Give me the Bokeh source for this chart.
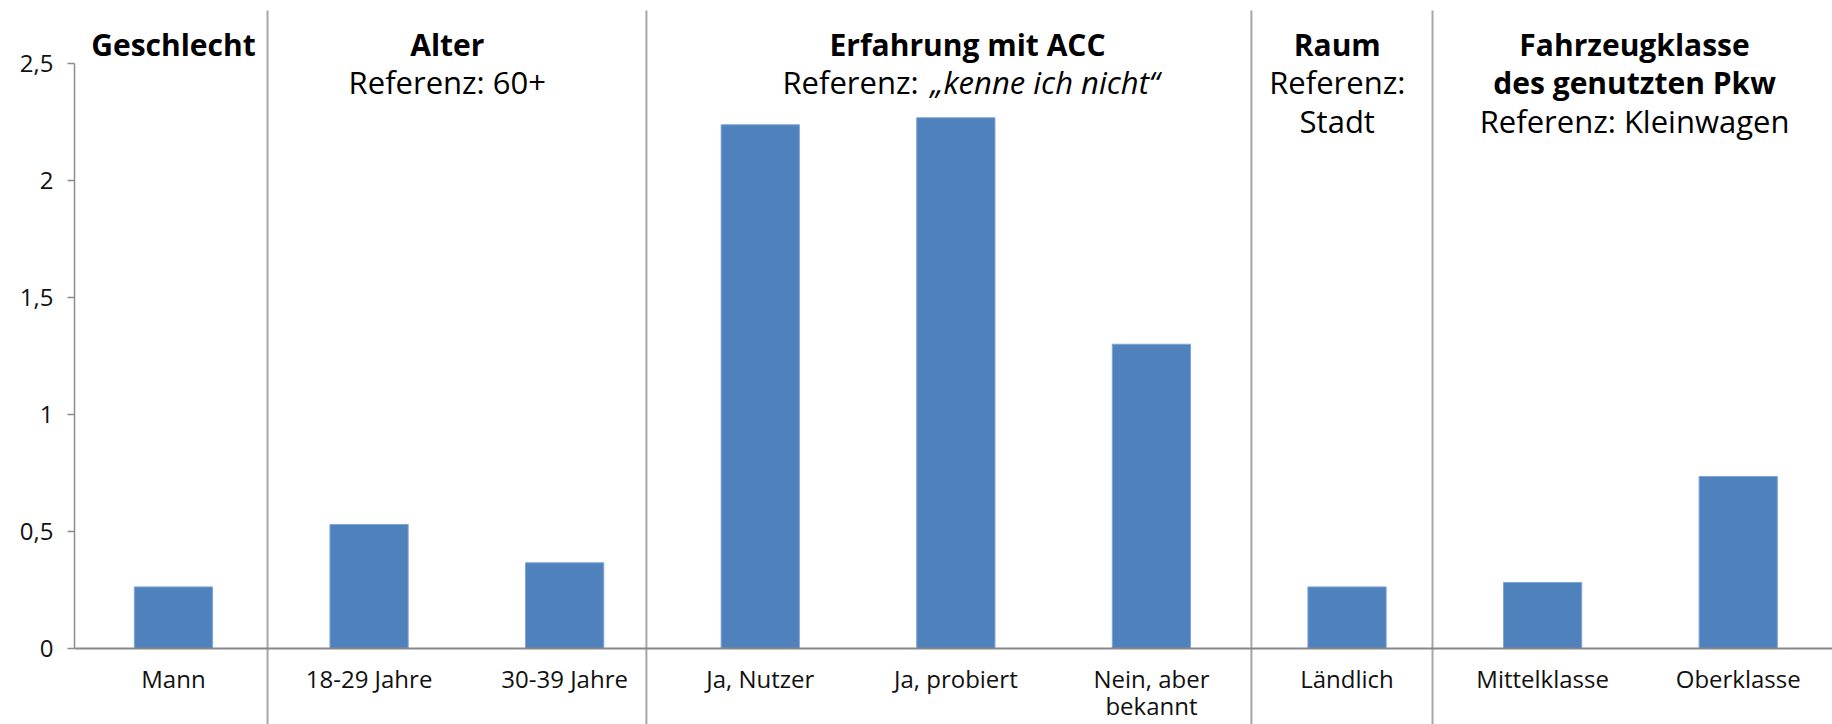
from bokeh.plotting import figure
from bokeh.models import Range1d, FixedTicker, CustomJSTickFormatter
from bokeh.core.properties import value
from bokeh.embed import file_html
from bokeh.resources import INLINE

# ---- data ----
categories = ["Mann", "18-29 Jahre", "30-39 Jahre", "Ja, Nutzer", "Ja, probiert",
              "Nein, aber\nbekannt", "Ländlich", "Mittelklasse", "Oberklasse"]
values = [0.263, 0.530, 0.366, 2.238, 2.268, 1.30, 0.263, 0.282, 0.735]
y_ticks = [0, 0.5, 1, 1.5, 2, 2.5]

group_titles = ["Geschlecht", "Alter", "Erfahrung mit ACC", "Raum", "Fahrzeugklasse"]
group_title2 = ["", "", "", "", "des genutzten Pkw"]
group_sub1 = ["", "Referenz: 60+", "", "Referenz:", "Referenz: Kleinwagen"]
group_sub2 = ["", "", "", "Stadt", ""]
acc_ref_label = "Referenz:"
acc_ref_value = "\u201ekenne ich nicht\u201c"

# ---- layout constants ----
FONT = value("Open Sans")
BAR_COLOR = "#4F81BD"
group_x = [0.5, 1.90, 4.56, 6.45, 7.97]
sep_x = [0.981, 2.918, 6.011, 6.937]
line_y = [2.581, 2.419, 2.256]
BOLD_SIZE = "30px"
REG_SIZE = "31px"

W, H = 1832, 724
p = figure(width=W, height=H, output_backend="svg", toolbar_location=None,
           x_range=Range1d(-0.006, 8.982), y_range=Range1d(-0.325, 2.769),
           min_border_left=74, min_border_right=0, min_border_top=0, min_border_bottom=0)
p.outline_line_color = None
p.xgrid.visible = False
p.ygrid.visible = False
p.background_fill_color = "white"
p.border_fill_color = "white"

# separators
p.segment(x0=sep_x, y0=[2.726] * len(sep_x), x1=sep_x, y1=[-0.33] * len(sep_x),
          line_color="#a6a6a6", line_width=2)

# bars
xs = [i + 0.5 for i in range(len(categories))]
p.vbar(x=xs, top=values, width=0.4, fill_color=BAR_COLOR, line_color="#7ea5d5", line_width=1)

# x axis (at y = 0)
xa = p.xaxis[0]
xa.fixed_location = 0
xa.ticker = FixedTicker(ticks=xs)
xa.formatter = CustomJSTickFormatter(args=dict(labels=categories),
                                     code="return labels[Math.floor(tick)];")
xa.major_tick_line_color = None
xa.minor_tick_line_color = None
xa.major_tick_out = 0
xa.major_tick_in = 0
xa.axis_line_color = "#888888"
xa.axis_line_width = 2
xa.major_label_standoff = 14
xa.major_label_text_font = "Open Sans"
xa.major_label_text_font_size = "24px"
xa.major_label_text_line_height = 0.8
xa.major_label_text_color = "#111111"

# y axis
ya = p.yaxis[0]
ya.bounds = (0, 2.5)
ya.ticker = FixedTicker(ticks=y_ticks)
ya.formatter = CustomJSTickFormatter(code="return tick.toString().replace('.', ',');")
ya.axis_line_color = "#8c8c8c"
ya.axis_line_width = 1.5
ya.major_tick_line_color = "#8c8c8c"
ya.major_tick_line_width = 1.5
ya.major_tick_in = 0
ya.major_tick_out = 7
ya.minor_tick_line_color = None
ya.major_label_standoff = 14
ya.major_label_text_font = "Open Sans"
ya.major_label_text_font_size = "24px"
ya.major_label_text_color = "#111111"

# headers
p.text(x=group_x, y=[line_y[0]] * 5, text=group_titles, text_font=FONT,
       text_font_size=BOLD_SIZE, text_font_style="bold", text_align="center",
       text_baseline="middle", text_color="black")
p.text(x=group_x, y=[line_y[1]] * 5, text=group_title2, text_font=FONT,
       text_font_size=BOLD_SIZE, text_font_style="bold", text_align="center",
       text_baseline="middle", text_color="black")
p.text(x=group_x, y=[line_y[1]] * 3 + [line_y[1], line_y[2]], text=group_sub1, text_font=FONT,
       text_font_size=REG_SIZE, text_align="center", text_baseline="middle", text_color="black")
p.text(x=group_x, y=[line_y[2]] * 5, text=group_sub2, text_font=FONT,
       text_font_size=REG_SIZE, text_align="center", text_baseline="middle", text_color="black")
# ACC reference line: normal + italic parts
acc_x = 4.335
p.text(x=[acc_x], y=[line_y[1]], text=[acc_ref_label], text_font=FONT, text_font_size=REG_SIZE,
       text_align="right", text_baseline="middle", x_offset=-5, text_color="black")
p.text(x=[acc_x], y=[line_y[1]], text=[acc_ref_value], text_font=FONT, text_font_size=REG_SIZE,
       text_font_style="italic", text_align="left", text_baseline="middle", x_offset=7,
       text_color="black")

open("out.html", "w").write(file_html(p, INLINE))
